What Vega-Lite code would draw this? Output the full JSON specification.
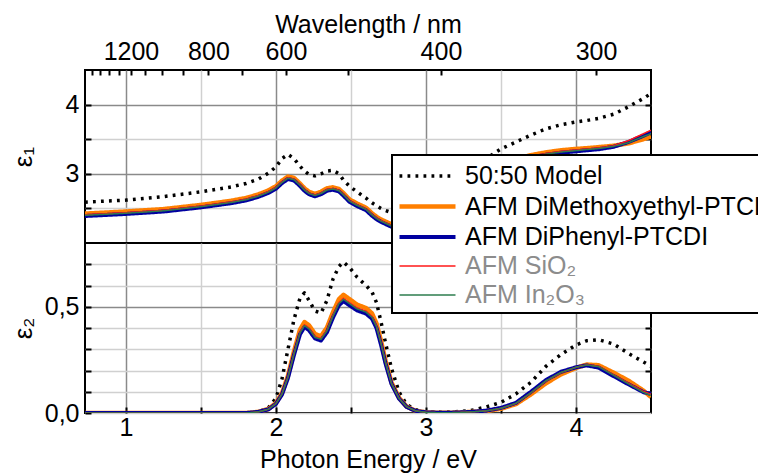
{
  "$schema": "https://vega.github.io/schema/vega-lite/v6.json",
  "background": "white",
  "padding": {"left": 9, "top": 11, "right": 0, "bottom": 0},
  "config": {
    "font": "Liberation Sans",
    "view": {"stroke": "black", "strokeWidth": 2},
    "axis": {"labelFont": "Liberation Sans", "labelFontSize": 25, "labelColor": "black", "titleFont": "Liberation Sans", "titleFontSize": 25, "titleFontWeight": "normal", "titleColor": "black", "tickColor": "black", "tickWidth": 2, "gridWidth": 1.5, "labelOverlap": false},
    "legend": {"labelFont": "Liberation Sans", "strokeWidth": 2}
  },
  "datasets": {
    "e1": [
      {"E": 0.727, "m": 2.59, "o": 2.425, "b": 2.39, "r": 2.408, "g": 2.40},
      {"E": 1.0, "m": 2.62, "o": 2.455, "b": 2.42, "r": 2.438, "g": 2.43},
      {"E": 1.25, "m": 2.67, "o": 2.49, "b": 2.455, "r": 2.473, "g": 2.465},
      {"E": 1.5, "m": 2.74, "o": 2.55, "b": 2.515, "r": 2.533, "g": 2.525},
      {"E": 1.7, "m": 2.81, "o": 2.61, "b": 2.575, "r": 2.593, "g": 2.585},
      {"E": 1.8, "m": 2.86, "o": 2.65, "b": 2.615, "r": 2.633, "g": 2.625},
      {"E": 1.88, "m": 2.92, "o": 2.70, "b": 2.665, "r": 2.683, "g": 2.675},
      {"E": 1.95, "m": 3.01, "o": 2.76, "b": 2.725, "r": 2.743, "g": 2.735},
      {"E": 2.0, "m": 3.10, "o": 2.82, "b": 2.785, "r": 2.803, "g": 2.795},
      {"E": 2.04, "m": 3.22, "o": 2.90, "b": 2.865, "r": 2.883, "g": 2.875},
      {"E": 2.08, "m": 3.28, "o": 2.96, "b": 2.925, "r": 2.943, "g": 2.935},
      {"E": 2.12, "m": 3.22, "o": 2.94, "b": 2.905, "r": 2.923, "g": 2.915},
      {"E": 2.16, "m": 3.11, "o": 2.86, "b": 2.825, "r": 2.843, "g": 2.835},
      {"E": 2.19, "m": 3.04, "o": 2.79, "b": 2.755, "r": 2.773, "g": 2.765},
      {"E": 2.22, "m": 2.99, "o": 2.74, "b": 2.705, "r": 2.723, "g": 2.715},
      {"E": 2.26, "m": 2.97, "o": 2.71, "b": 2.675, "r": 2.693, "g": 2.685},
      {"E": 2.3, "m": 3.00, "o": 2.74, "b": 2.705, "r": 2.723, "g": 2.715},
      {"E": 2.34, "m": 3.04, "o": 2.79, "b": 2.755, "r": 2.773, "g": 2.765},
      {"E": 2.38, "m": 3.05, "o": 2.805, "b": 2.77, "r": 2.788, "g": 2.78},
      {"E": 2.42, "m": 3.00, "o": 2.78, "b": 2.745, "r": 2.763, "g": 2.755},
      {"E": 2.45, "m": 2.91, "o": 2.72, "b": 2.685, "r": 2.703, "g": 2.695},
      {"E": 2.49, "m": 2.82, "o": 2.63, "b": 2.595, "r": 2.613, "g": 2.605},
      {"E": 2.54, "m": 2.74, "o": 2.57, "b": 2.535, "r": 2.553, "g": 2.545},
      {"E": 2.6, "m": 2.65, "o": 2.51, "b": 2.475, "r": 2.493, "g": 2.485},
      {"E": 2.64, "m": 2.58, "o": 2.43, "b": 2.395, "r": 2.413, "g": 2.405},
      {"E": 2.67, "m": 2.54, "o": 2.38, "b": 2.345, "r": 2.363, "g": 2.355},
      {"E": 2.7, "m": 2.50, "o": 2.34, "b": 2.305, "r": 2.323, "g": 2.315},
      {"E": 2.73, "m": 2.47, "o": 2.31, "b": 2.275, "r": 2.293, "g": 2.285},
      {"E": 2.77, "m": 2.44, "o": 2.27, "b": 2.235, "r": 2.253, "g": 2.245},
      {"E": 2.82, "m": 2.40, "o": 2.23, "b": 2.195, "r": 2.213, "g": 2.205},
      {"E": 2.87, "m": 2.38, "o": 2.21, "b": 2.175, "r": 2.193, "g": 2.185},
      {"E": 2.93, "m": 2.39, "o": 2.21, "b": 2.175, "r": 2.193, "g": 2.185},
      {"E": 3.0, "m": 2.44, "o": 2.24, "b": 2.205, "r": 2.223, "g": 2.215},
      {"E": 3.1, "m": 2.60, "o": 2.34, "b": 2.305, "r": 2.323, "g": 2.315},
      {"E": 3.2, "m": 2.80, "o": 2.50, "b": 2.465, "r": 2.483, "g": 2.475},
      {"E": 3.3, "m": 3.02, "o": 2.72, "b": 2.685, "r": 2.703, "g": 2.695},
      {"E": 3.4, "m": 3.22, "o": 2.94, "b": 2.905, "r": 2.923, "g": 2.915},
      {"E": 3.5, "m": 3.36, "o": 3.10, "b": 3.065, "r": 3.083, "g": 3.075},
      {"E": 3.6, "m": 3.46, "o": 3.21, "b": 3.175, "r": 3.193, "g": 3.185},
      {"E": 3.7, "m": 3.56, "o": 3.27, "b": 3.235, "r": 3.253, "g": 3.245},
      {"E": 3.8, "m": 3.65, "o": 3.31, "b": 3.275, "r": 3.293, "g": 3.285},
      {"E": 3.9, "m": 3.71, "o": 3.34, "b": 3.305, "r": 3.323, "g": 3.315},
      {"E": 4.0, "m": 3.75, "o": 3.36, "b": 3.325, "r": 3.343, "g": 3.335},
      {"E": 4.07, "m": 3.77, "o": 3.37, "b": 3.34, "r": 3.358, "g": 3.35},
      {"E": 4.15, "m": 3.80, "o": 3.385, "b": 3.355, "r": 3.373, "g": 3.365},
      {"E": 4.25, "m": 3.86, "o": 3.405, "b": 3.39, "r": 3.405, "g": 3.395},
      {"E": 4.35, "m": 3.97, "o": 3.44, "b": 3.46, "r": 3.48, "g": 3.45},
      {"E": 4.45, "m": 4.09, "o": 3.50, "b": 3.55, "r": 3.58, "g": 3.54},
      {"E": 4.5, "m": 4.16, "o": 3.54, "b": 3.60, "r": 3.63, "g": 3.58}
    ],
    "e2": [
      {"E": 0.727, "m": 0, "o": 0, "b": 0, "r": 0, "g": 0},
      {"E": 1.0, "m": 0, "o": 0, "b": 0, "r": 0, "g": 0},
      {"E": 1.5, "m": 0, "o": 0, "b": 0, "r": 0, "g": 0},
      {"E": 1.8, "m": 0, "o": 0, "b": 0, "r": 0, "g": 0},
      {"E": 1.88, "m": 0.004, "o": 0.005, "b": 0.005, "r": 0.005, "g": 0.005},
      {"E": 1.95, "m": 0.025, "o": 0.019, "b": 0.017, "r": 0.018, "g": 0.018},
      {"E": 2.0, "m": 0.07, "o": 0.047, "b": 0.043, "r": 0.045, "g": 0.044},
      {"E": 2.04, "m": 0.16, "o": 0.093, "b": 0.087, "r": 0.09, "g": 0.089},
      {"E": 2.08, "m": 0.30, "o": 0.176, "b": 0.165, "r": 0.17, "g": 0.168},
      {"E": 2.12, "m": 0.44, "o": 0.29, "b": 0.273, "r": 0.28, "g": 0.277},
      {"E": 2.16, "m": 0.54, "o": 0.392, "b": 0.37, "r": 0.38, "g": 0.376},
      {"E": 2.19, "m": 0.565, "o": 0.428, "b": 0.405, "r": 0.415, "g": 0.411},
      {"E": 2.22, "m": 0.53, "o": 0.413, "b": 0.39, "r": 0.40, "g": 0.396},
      {"E": 2.26, "m": 0.48, "o": 0.372, "b": 0.351, "r": 0.36, "g": 0.356},
      {"E": 2.3, "m": 0.47, "o": 0.361, "b": 0.341, "r": 0.35, "g": 0.347},
      {"E": 2.34, "m": 0.53, "o": 0.402, "b": 0.38, "r": 0.39, "g": 0.386},
      {"E": 2.38, "m": 0.63, "o": 0.474, "b": 0.449, "r": 0.46, "g": 0.455},
      {"E": 2.42, "m": 0.69, "o": 0.536, "b": 0.507, "r": 0.52, "g": 0.515},
      {"E": 2.45, "m": 0.71, "o": 0.556, "b": 0.527, "r": 0.54, "g": 0.535},
      {"E": 2.49, "m": 0.685, "o": 0.536, "b": 0.507, "r": 0.52, "g": 0.515},
      {"E": 2.54, "m": 0.64, "o": 0.51, "b": 0.483, "r": 0.495, "g": 0.49},
      {"E": 2.6, "m": 0.60, "o": 0.494, "b": 0.468, "r": 0.48, "g": 0.475},
      {"E": 2.64, "m": 0.57, "o": 0.469, "b": 0.444, "r": 0.455, "g": 0.45},
      {"E": 2.67, "m": 0.52, "o": 0.422, "b": 0.40, "r": 0.41, "g": 0.406},
      {"E": 2.7, "m": 0.43, "o": 0.34, "b": 0.322, "r": 0.33, "g": 0.327},
      {"E": 2.73, "m": 0.33, "o": 0.247, "b": 0.234, "r": 0.24, "g": 0.238},
      {"E": 2.77, "m": 0.21, "o": 0.144, "b": 0.137, "r": 0.14, "g": 0.139},
      {"E": 2.82, "m": 0.10, "o": 0.072, "b": 0.068, "r": 0.07, "g": 0.069},
      {"E": 2.87, "m": 0.04, "o": 0.031, "b": 0.029, "r": 0.03, "g": 0.03},
      {"E": 2.93, "m": 0.015, "o": 0.01, "b": 0.01, "r": 0.01, "g": 0.01},
      {"E": 3.0, "m": 0.005, "o": 0.003, "b": 0.003, "r": 0.003, "g": 0.003},
      {"E": 3.1, "m": 0.004, "o": 0.001, "b": 0.001, "r": 0.001, "g": 0.001},
      {"E": 3.2, "m": 0.006, "o": 0.002, "b": 0.002, "r": 0.002, "g": 0.002},
      {"E": 3.3, "m": 0.012, "o": 0.005, "b": 0.005, "r": 0.005, "g": 0.005},
      {"E": 3.4, "m": 0.028, "o": 0.009, "b": 0.011, "r": 0.01, "g": 0.01},
      {"E": 3.5, "m": 0.05, "o": 0.02, "b": 0.024, "r": 0.022, "g": 0.022},
      {"E": 3.6, "m": 0.09, "o": 0.042, "b": 0.048, "r": 0.045, "g": 0.046},
      {"E": 3.7, "m": 0.145, "o": 0.088, "b": 0.10, "r": 0.095, "g": 0.096},
      {"E": 3.8, "m": 0.22, "o": 0.14, "b": 0.155, "r": 0.15, "g": 0.152},
      {"E": 3.9, "m": 0.275, "o": 0.182, "b": 0.194, "r": 0.19, "g": 0.191},
      {"E": 4.0, "m": 0.32, "o": 0.212, "b": 0.215, "r": 0.215, "g": 0.215},
      {"E": 4.07, "m": 0.34, "o": 0.228, "b": 0.224, "r": 0.227, "g": 0.226},
      {"E": 4.15, "m": 0.345, "o": 0.225, "b": 0.214, "r": 0.22, "g": 0.218},
      {"E": 4.25, "m": 0.325, "o": 0.19, "b": 0.174, "r": 0.18, "g": 0.178},
      {"E": 4.35, "m": 0.28, "o": 0.152, "b": 0.135, "r": 0.14, "g": 0.137},
      {"E": 4.45, "m": 0.24, "o": 0.105, "b": 0.098, "r": 0.102, "g": 0.097},
      {"E": 4.5, "m": 0.22, "o": 0.075, "b": 0.09, "r": 0.088, "g": 0.082}
    ],
    "d1": [{"E": 1.0, "v": 3.0}],
    "d2": [{"E": 1.0, "v": 0.3}]
  },
  "spacing": 0,
  "bounds": "flush",
  "vconcat": [
    {
      "width": 566,
      "height": 173,
      "layer": [
        {
          "data": {"name": "e1"},
          "transform": [{"fold": ["m", "o", "b", "r", "g"], "as": ["s", "v"]}],
          "mark": {"type": "line", "strokeCap": "butt", "strokeJoin": "round", "clip": true},
          "encoding": {
            "x": {"field": "E", "type": "quantitative", "scale": {"domain": [0.727, 4.5], "nice": false, "zero": false},
              "axis": {"orient": "bottom", "values": [1, 1.5, 2, 2.5, 3, 3.5, 4], "labels": false, "ticks": false, "domain": false, "title": null, "grid": true,
                "gridColor": {"condition": {"test": "datum.value % 1 == 0", "value": "#8a8a8a"}, "value": "#d0d0d0"}}},
            "y": {"field": "v", "type": "quantitative", "scale": {"domain": [2, 4.5], "nice": false, "zero": false},
              "axis": {"values": [2.5, 3, 3.5, 4], "labelExpr": "datum.value % 1 == 0 ? format(datum.value, 'd') : ''", "title": "ε₁", "titleFontSize": 26, "titleX": -49, "domain": false, "tickSize": -6, "labelPadding": 12, "grid": true,
                "gridColor": {"condition": {"test": "datum.value % 1 == 0", "value": "#8a8a8a"}, "value": "#d0d0d0"}}},
            "color": {"field": "s", "type": "nominal", "scale": {"domain": ["m", "o", "b", "r", "g"], "range": ["#000000", "#FF7F00", "#0000A0", "#FF1A1A", "#2E7D4F"]},
              "legend": {"orient": "none", "legendX": 307, "legendY": 85, "title": null, "symbolType": "M-1,0H3", "symbolSize": 784, "labelFontSize": 25, "labelLimit": 500, "labelOffset": 35, "rowPadding": 1, "padding": 5, "strokeColor": "black", "fillColor": "white", "cornerRadius": 0,
                "labelExpr": "datum.value == 'm' ? '50:50 Model' : datum.value == 'o' ? 'AFM DiMethoxyethyl-PTCDI' : datum.value == 'b' ? 'AFM DiPhenyl-PTCDI' : datum.value == 'r' ? 'AFM SiO₂' : 'AFM In₂O₃'",
                "labelColor": {"expr": "datum.value == 'r' || datum.value == 'g' ? '#8c8c8c' : 'black'"}}},
            "strokeDash": {"field": "s", "type": "nominal", "scale": {"domain": ["m", "o", "b", "r", "g"], "range": [[2.8, 5.2], [1, 0], [1, 0], [1, 0], [1, 0]]}},
            "strokeWidth": {"field": "s", "type": "nominal", "scale": {"type": "ordinal", "domain": ["m", "o", "b", "r", "g"], "range": [3.5, 4.5, 4, 1.5, 1.5]}}
          }
        },
        {
          "data": {"name": "d1"},
          "mark": {"type": "point", "opacity": 0},
          "encoding": {
            "x": {"field": "E", "type": "quantitative", "scale": {"domain": [0.727, 4.5], "nice": false, "zero": false},
              "axis": {"orient": "top", "values": [0.775, 0.8267, 0.8857, 0.9538, 1.0333, 1.1273, 1.24, 1.3778, 1.55, 1.7714, 2.0667, 2.48, 3.1, 4.1333],
                "labelExpr": "indexof([1200, 800, 600, 400, 300], round(1240 / datum.value)) >= 0 ? '' + round(1240 / datum.value) : ''",
                "title": "Wavelength / nm", "titlePadding": 2, "domain": false, "grid": false, "tickSize": -5, "labelPadding": 11}},
            "y": {"field": "v", "type": "quantitative", "scale": {"domain": [2, 4.5], "nice": false, "zero": false},
              "axis": {"orient": "right", "values": [2.5, 3, 3.5, 4], "labels": false, "title": null, "domain": false, "grid": false, "tickSize": -6}}
          }
        }
      ],
      "resolve": {"axis": {"x": "independent", "y": "independent"}}
    },
    {
      "width": 566,
      "height": 170,
      "layer": [
        {
          "data": {"name": "e2"},
          "transform": [{"fold": ["m", "o", "b", "r", "g"], "as": ["s", "v"]}],
          "mark": {"type": "line", "strokeCap": "butt", "strokeJoin": "round", "clip": true},
          "encoding": {
            "x": {"field": "E", "type": "quantitative", "scale": {"domain": [0.727, 4.5], "nice": false, "zero": false},
              "axis": {"orient": "bottom", "values": [1, 1.5, 2, 2.5, 3, 3.5, 4], "labelExpr": "datum.value % 1 == 0 ? format(datum.value, 'd') : ''", "title": "Photon Energy / eV", "titlePadding": 7, "domain": false, "tickSize": -6, "labelPadding": 8, "grid": true,
                "gridColor": {"condition": {"test": "datum.value % 1 == 0", "value": "#8a8a8a"}, "value": "#d0d0d0"}}},
            "y": {"field": "v", "type": "quantitative", "scale": {"domain": [0, 0.8], "nice": false, "zero": false},
              "axis": {"values": [0, 0.1, 0.2, 0.3, 0.4, 0.5, 0.6, 0.7], "labelExpr": "datum.value == 0 ? '0,0' : datum.value == 0.5 ? '0,5' : ''", "title": "ε₂", "titleFontSize": 26, "titleX": -49, "domain": false, "tickSize": -6, "labelPadding": 12, "grid": true,
                "gridColor": {"condition": {"test": "datum.value == 0.5", "value": "#8a8a8a"}, "value": "#d0d0d0"}}},
            "color": {"field": "s", "type": "nominal", "scale": {"domain": ["m", "o", "b", "r", "g"], "range": ["#000000", "#FF7F00", "#0000A0", "#FF1A1A", "#2E7D4F"]}},
            "strokeDash": {"field": "s", "type": "nominal", "scale": {"domain": ["m", "o", "b", "r", "g"], "range": [[2.8, 5.2], [1, 0], [1, 0], [1, 0], [1, 0]]}},
            "strokeWidth": {"field": "s", "type": "nominal", "scale": {"type": "ordinal", "domain": ["m", "o", "b", "r", "g"], "range": [3.5, 4.5, 4, 1.5, 1.5]}}
          }
        },
        {
          "data": {"name": "d2"},
          "mark": {"type": "point", "opacity": 0},
          "encoding": {
            "x": {"field": "E", "type": "quantitative", "scale": {"domain": [0.727, 4.5], "nice": false, "zero": false}, "axis": null},
            "y": {"field": "v", "type": "quantitative", "scale": {"domain": [0, 0.8], "nice": false, "zero": false},
              "axis": {"orient": "right", "values": [0.1, 0.2, 0.3, 0.4, 0.5, 0.6, 0.7], "labels": false, "title": null, "domain": false, "grid": false, "tickSize": -6}}
          }
        }
      ],
      "resolve": {"axis": {"x": "independent", "y": "independent"}}
    }
  ]
}
